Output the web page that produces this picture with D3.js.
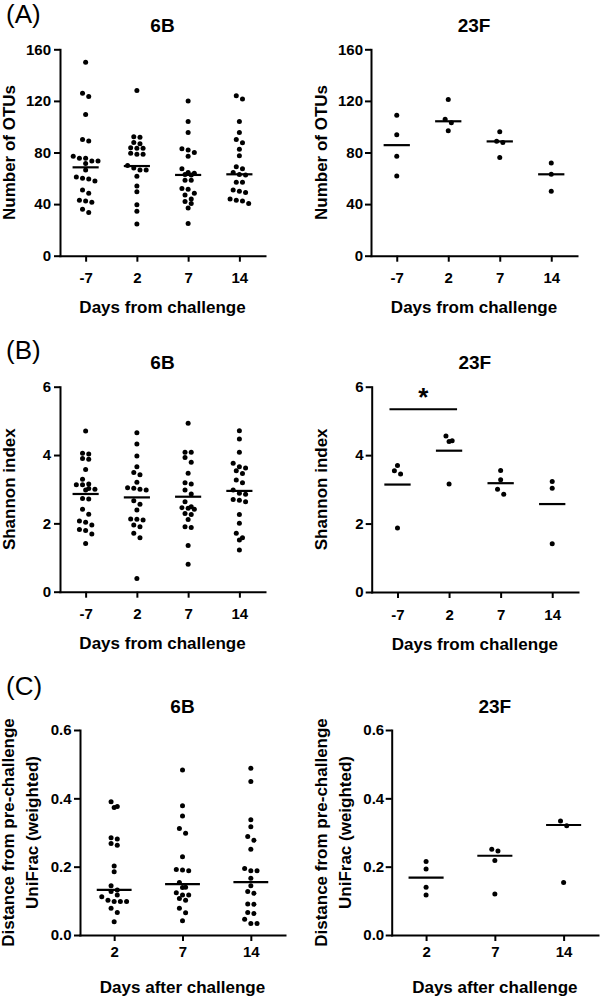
<!DOCTYPE html>
<html><head><meta charset="utf-8">
<script src="https://cdn.jsdelivr.net/npm/d3@7"></script>
<style>
body{margin:0;background:#fff}
svg{display:block}
text{font-family:"Liberation Sans",Arial,Helvetica,sans-serif;fill:#000}
</style>
</head><body>
<svg id="chart" width="600" height="998"></svg>
<script>
// ---------- categories & ticks ----------
const daysChallenge = ["-7", "2", "7", "14"];
const daysAfter = ["2", "7", "14"];
const ticksOTU = [0, 40, 80, 120, 160];
const ticksShannon = [0, 2, 4, 6];
const ticksUniFrac = [0, 0.2, 0.4, 0.6];

// ---------- (A) Number of OTUs ----------
const otu6B = [
  [150, 126, 123.5, 109.5, 90, 89, 77, 75.5, 75.5, 73.5, 73.5, 71.5, 66.5, 61, 60, 59.5, 58, 51, 48.5, 43, 42.5, 41.5, 36, 33.5],
  [128, 92.3, 91.8, 87.8, 86.8, 83.6, 83.3, 83.2, 79.4, 78.6, 78.6, 70, 68, 66.5, 66.5, 61.5, 54, 49.5, 39.5, 34.5, 24.5],
  [120, 104, 95.5, 83, 82, 80, 77, 67.5, 64.5, 64, 63, 62.5, 58.5, 58.5, 52, 51.5, 48.5, 47, 44, 42, 40.5, 37, 25],
  [124, 121.5, 104, 95.5, 90, 87.5, 82.5, 77.5, 69, 67.5, 64.5, 63, 62.5, 57, 57, 51, 50, 49, 44, 43, 42.5, 40.5]
];
const otu6BMedian = [68.5, 69.5, 62.6, 63.1];
const otu23F = [
  [108.8, 93.8, 77.1, 61.8],
  [121.0, 105.7, 103.1, 96.9],
  [96.1, 88.8, 87.8, 76.1],
  [71.9, 63.1, 49.9]
];
const otu23FMedian = [85.7, 104.2, 88.6, 63.1];

// ---------- (B) Shannon index ----------
const shannon6B = [
  [4.70, 4.05, 4.03, 3.90, 3.875, 3.58, 3.29, 3.15, 3.13, 3.13, 3.02, 3.0, 2.98, 2.73, 2.71, 2.41, 2.27, 2.07, 2.03, 1.95, 1.82, 1.79, 1.69, 1.41],
  [4.65, 4.32, 3.97, 3.66, 3.49, 3.42, 3.20, 3.04, 3.03, 3.0, 2.98, 2.66, 2.56, 2.39, 2.13, 2.12, 2.10, 1.95, 1.90, 1.71, 1.58, 0.39],
  [4.93, 4.08, 4.08, 3.93, 3.79, 3.47, 3.19, 3.15, 2.98, 2.86, 2.63, 2.49, 2.46, 2.44, 2.41, 2.29, 2.26, 2.11, 1.90, 1.88, 1.35, 0.80],
  [4.71, 4.47, 4.08, 3.76, 3.66, 3.62, 3.54, 3.46, 3.27, 3.19, 2.98, 2.88, 2.85, 2.70, 2.68, 2.63, 2.26, 2.00, 1.71, 1.58, 1.51, 1.22]
];
const shannon6BMean = [2.86, 2.76, 2.78, 2.95];
const shannon23F = [
  [3.70, 3.54, 3.45, 1.87],
  [4.56, 4.42, 4.40, 3.16],
  [3.55, 3.28, 3.00, 2.86],
  [3.23, 3.03, 1.41]
];
const shannon23FMean = [3.14, 4.13, 3.18, 2.57];
const shannonSig = [{from: "-7", to: "2", value: 5.34, label: "*"}];

// ---------- (C) weighted UniFrac distance ----------
const unifrac6B = [
  [0.390, 0.376, 0.373, 0.285, 0.281, 0.268, 0.263, 0.202, 0.185, 0.144, 0.132, 0.127, 0.117, 0.112, 0.102, 0.098, 0.098, 0.098, 0.078, 0.066, 0.039],
  [0.483, 0.378, 0.348, 0.312, 0.298, 0.229, 0.192, 0.190, 0.188, 0.154, 0.140, 0.139, 0.124, 0.117, 0.117, 0.107, 0.102, 0.078, 0.065, 0.042],
  [0.488, 0.449, 0.337, 0.317, 0.288, 0.277, 0.251, 0.195, 0.188, 0.188, 0.166, 0.144, 0.127, 0.122, 0.091, 0.090, 0.066, 0.063, 0.046, 0.034, 0.034]
];
const unifrac6BMedian = [0.132, 0.149, 0.155];
const unifrac23F = [
  [0.215, 0.193, 0.140, 0.117],
  [0.251, 0.246, 0.218, 0.120],
  [0.334, 0.320, 0.154]
];
const unifrac23FMedian = [0.168, 0.232, 0.322];

// ---------- drawing ----------
const svg = d3.select("#chart");
const FONT = '"Liberation Sans",Arial,Helvetica,sans-serif';

function swarm(vals, y, cx, gap, thr) {
  const s = vals.slice().sort((a, b) => b - a);
  const out = [];
  let i = 0;
  while (i < s.length) {
    const y0 = y(s[i]);
    let j = i;
    while (j < s.length && Math.abs(y(s[j]) - y0) < thr) j++;
    const n = j - i;
    for (let k = 0; k < n; k++) out.push({x: cx + (k - (n - 1) / 2) * gap, y: y(s[i + k])});
    i = j;
  }
  return out;
}

function panel(c) {
  const g = svg.append("g");
  const x = d3.scalePoint().domain(c.cats).range([c.x0, c.x1]).padding(0.5);
  const y = d3.scaleLinear().domain([0, c.ymax]).range([c.yb, c.yt]);

  const yAx = g.append("g").attr("transform", `translate(${c.x0},0)`)
    .call(d3.axisLeft(y).tickValues(c.ticks).tickFormat(c.fmt).tickSize(6).tickSizeOuter(0).tickPadding(c.ypad));
  const xAx = g.append("g").attr("transform", `translate(0,${c.yb})`)
    .call(d3.axisBottom(x).tickSize(6).tickSizeOuter(0).tickPadding(c.xpad));
  [yAx, xAx].forEach(a => {
    a.select(".domain").attr("stroke", "#000").attr("stroke-width", 2).attr("stroke-linecap", "square");
    a.selectAll(".tick line").attr("stroke", "#000").attr("stroke-width", 2);
    a.selectAll(".tick text").attr("font-family", FONT).attr("font-size", 15).attr("font-weight", "bold").attr("fill", "#000");
  });

  // dots
  c.data.forEach((vals, i) => {
    const pts = swarm(vals, y, x(c.cats[i]), 6.2, 5);
    g.selectAll(null).data(pts).enter().append("circle")
      .attr("cx", d => d.x).attr("cy", d => d.y).attr("r", 2.5).attr("fill", "#000");
  });
  // centre lines
  const half = x.step() * 0.255;
  g.selectAll(null).data(c.centre).enter().append("line")
    .attr("x1", (d, i) => x(c.cats[i]) - half).attr("x2", (d, i) => x(c.cats[i]) + half)
    .attr("y1", d => y(d)).attr("y2", d => y(d))
    .attr("stroke", "#000").attr("stroke-width", 2.2);

  // significance
  (c.sig || []).forEach(s => {
    g.append("line").attr("x1", x(s.from) - 8).attr("x2", x(s.to) + 8)
      .attr("y1", y(s.value)).attr("y2", y(s.value)).attr("stroke", "#000").attr("stroke-width", 2);
    g.append("text").attr("x", (x(s.from) + x(s.to)) / 2).attr("y", y(s.value) - 3)
      .attr("text-anchor", "middle").attr("font-size", 26).attr("font-weight", "bold").text(s.label);
  });

  // title
  g.append("text").attr("x", (c.x0 + c.x1) / 2).attr("y", c.yt - 17.5)
    .attr("text-anchor", "middle").attr("font-size", 19).attr("font-weight", "bold").text(c.title);
  // y label
  const cy = (c.yt + c.yb) / 2;
  c.ylab.forEach((t, i) => {
    g.append("text").attr("transform", `translate(${c.ylabX[i]},${cy}) rotate(-90)`)
      .attr("text-anchor", "middle").attr("font-size", 17).attr("font-weight", "bold").text(t);
  });
  // x label
  g.append("text").attr("x", (c.x0 + c.x1) / 2).attr("y", c.yb + 57.5)
    .attr("text-anchor", "middle").attr("font-size", 17).attr("font-weight", "bold").text(c.xlab);
  // panel letter
  if (c.letter) {
    g.append("text").attr("x", 6).attr("y", c.letterY).attr("font-size", 26).text(c.letter);
  }
}

const fInt = d3.format("d"), f1 = d3.format(".1f");
panel({cats: daysChallenge, x0: 60, x1: 265, yt: 49.3, yb: 255.7, ymax: 160, ticks: ticksOTU, fmt: fInt,
  data: otu6B, centre: otu6BMedian, title: "6B", ylab: ["Number of OTUs"], ylabX: [15],
  xlab: "Days from challenge", ypad: 3, xpad: 11, letter: "(A)", letterY: 23});
panel({cats: daysChallenge, x0: 371, x1: 577, yt: 49.3, yb: 255.7, ymax: 160, ticks: ticksOTU, fmt: fInt,
  data: otu23F, centre: otu23FMedian, title: "23F", ylab: ["Number of OTUs"], ylabX: [326.5],
  xlab: "Days from challenge", ypad: 2, xpad: 11});
panel({cats: daysChallenge, x0: 60, x1: 265, yt: 386.7, yb: 591.7, ymax: 6, ticks: ticksShannon, fmt: fInt,
  data: shannon6B, centre: shannon6BMean, title: "6B", ylab: ["Shannon index"], ylabX: [15],
  xlab: "Days from challenge", ypad: 3, xpad: 11, letter: "(B)", letterY: 359});
panel({cats: daysChallenge, x0: 371.7, x1: 578, yt: 386.7, yb: 592, ymax: 6, ticks: ticksShannon, fmt: fInt,
  data: shannon23F, centre: shannon23FMean, sig: shannonSig, title: "23F", ylab: ["Shannon index"], ylabX: [327],
  xlab: "Days from challenge", ypad: 2, xpad: 11});
panel({cats: daysAfter, x0: 80, x1: 285, yt: 730, yb: 935, ymax: 0.6, ticks: ticksUniFrac, fmt: f1,
  data: unifrac6B, centre: unifrac6BMedian, title: "6B", ylab: ["Distance from pre-challenge", "UniFrac (weighted)"], ylabX: [14, 37.5],
  xlab: "Days after challenge", ypad: 2.5, xpad: 5.3, letter: "(C)", letterY: 695});
panel({cats: daysAfter, x0: 391.7, x1: 598, yt: 730, yb: 935, ymax: 0.6, ticks: ticksUniFrac, fmt: f1,
  data: unifrac23F, centre: unifrac23FMedian, title: "23F", ylab: ["Distance from pre-challenge", "UniFrac (weighted)"], ylabX: [327, 351],
  xlab: "Days after challenge", ypad: 1.5, xpad: 5.3});
</script>
</body></html>
